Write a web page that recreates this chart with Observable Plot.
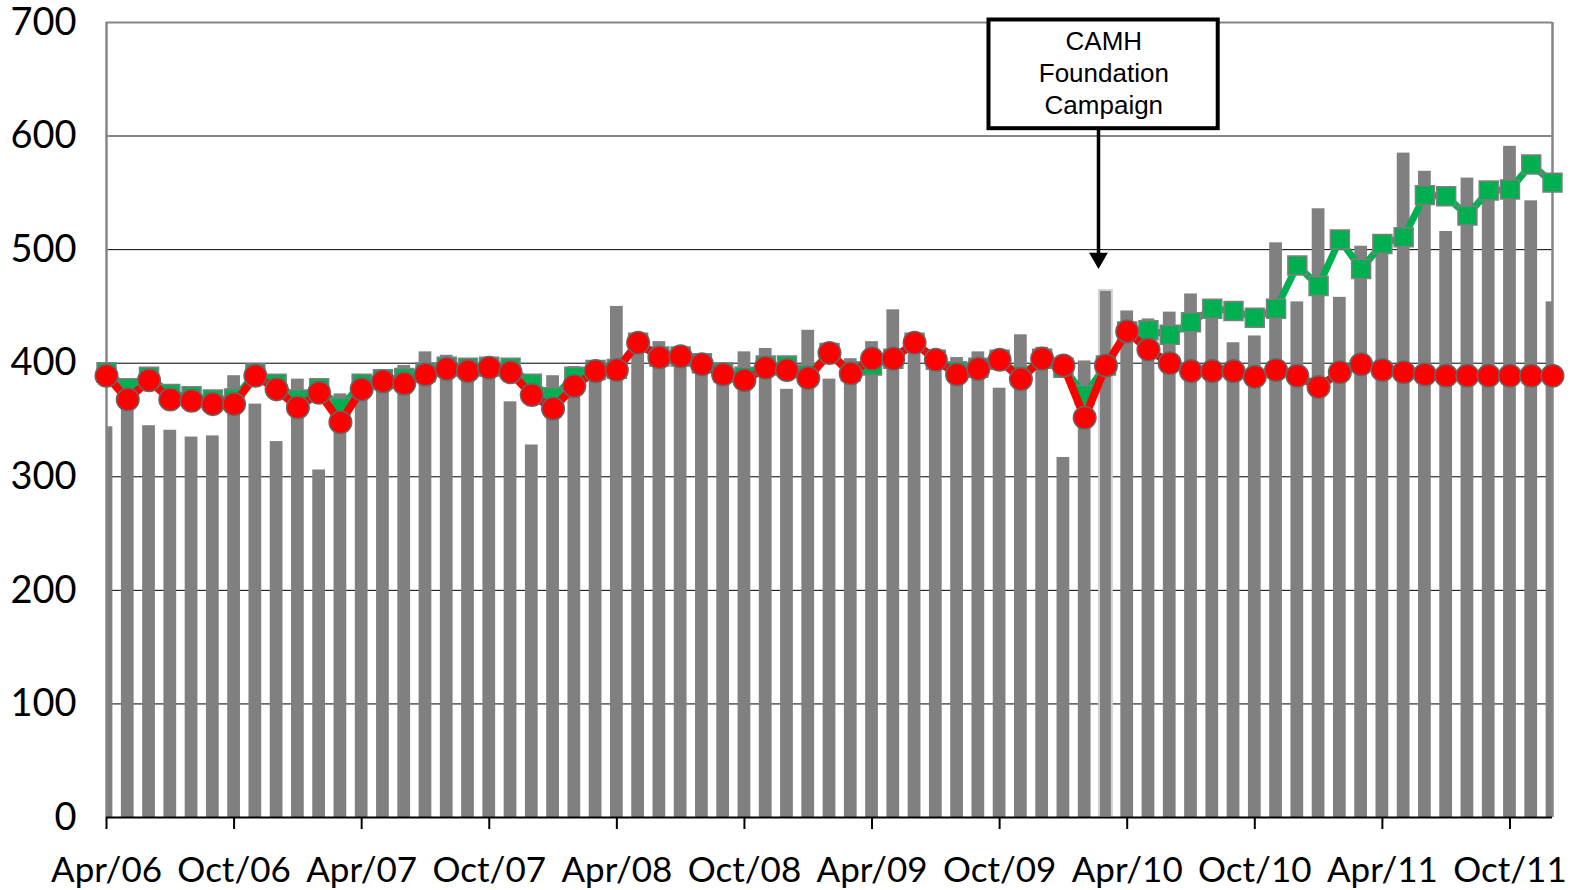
<!DOCTYPE html>
<html>
<head>
<meta charset="utf-8">
<script src="https://cdn.jsdelivr.net/npm/d3@7"></script>
<script src="https://cdn.jsdelivr.net/npm/@observablehq/plot@0.6"></script>
<style>
  html, body { margin: 0; padding: 0; background: #fff; }
  #chart svg { display: block; }
</style>
</head>
<body>
<div id="chart"></div>
<script>
// Month index 0 = Apr/06 ... 68 = Dec/11
const barValues = [344,372,345,341,335,336,389,364,331,386,306,373,382,392,398,410,407,402,
  404,366,328,389,397,398,450,420,419,405,399,383,410,413,377,429,386,404,419,447,410,400,
  405,410,378,425,414,317,402,464,446,439,445,461,440,418,424,506,454,536,458,503,500,585,
  569,516,563,555,591,543,454];
const redValues = [389,368,385,368,367,364,364,389,377,361,374,348,377,384,382,390,395,393,
  396,392,372,360,380,393,394,418,405,406,399,390,385,396,394,387,409,391,404,404,418,403,
  390,395,403,386,404,398,352,398,428,412,400,393,393,393,388,394,389,379,392,399,394,392,
  390,389,389,389,389,389,389];
const greenValues = [392,378,388,373,371,368,369,391,382,368,378,361,382,386,387,392,397,396,
  397,396,382,370,388,394,395,418,406,406,400,392,388,398,398,390,409,393,398,404,418,403,
  393,396,403,389,404,396,372,398,428,429,425,436,448,446,440,448,486,468,509,483,505,511,
  548,547,530,552,553,575,559];
const tickLabels = ["Apr/06","Oct/06","Apr/07","Oct/07","Apr/08","Oct/08","Apr/09","Oct/09",
  "Apr/10","Oct/10","Apr/11","Oct/11"];
const yTicks = [0,100,200,300,400,500,600,700];
const highlightMonth = [47];
const noteLines = ["CAMH","Foundation","Campaign"];

const data = barValues.map((v, i) => ({i, bar: v, red: redValues[i], green: greenValues[i]}));
const tickPos = tickLabels.map((_, k) => k * 6);
const lastIndex = barValues.length - 1;

const noteBox = [{x1: 41.5, x2: 52.28, y1: 606.5, y2: 702.2}];
const noteCenterX = 46.9;
const noteText = noteLines.map((t, k) => ({t, x: noteCenterX, y: [683, 655, 627][k]}));
const arrowX = 46.65;
const arrow = [{x: arrowX, y1: 606.5, y2: 490}];
const arrowHead = [{x: arrowX, y: 489}];

const chart = Plot.plot({
  width: 1576,
  height: 890,
  marginLeft: 106,
  marginRight: 24,
  marginTop: 22,
  marginBottom: 73,
  style: {fontFamily: "Lato, 'Noto Sans', sans-serif", color: "#000", background: "#fff"},
  x: {type: "linear", domain: [0, lastIndex]},
  y: {domain: [0, 700]},
  marks: [
    Plot.ruleY([100, 200, 300, 400, 500], {stroke: "#000", strokeWidth: 1}),
    Plot.ruleY([600, 700], {stroke: "#868686", strokeWidth: 2}),
    Plot.rectY(data, {x1: d => d.i - 0.3, x2: d => d.i + 0.3, y: "bar", fill: "#808080", clip: true}),
    Plot.rectY(data.filter(d => highlightMonth.includes(d.i)), {x1: d => d.i - 0.3, x2: d => d.i + 0.3, y: "bar", fill: "#808080", stroke: "#cfcfcf", strokeWidth: 2}),
    Plot.ruleX([0, lastIndex], {stroke: "#868686", strokeWidth: 2.5}),
    Plot.ruleY([0], {stroke: "#000", strokeWidth: 2}),
    Plot.axisX(tickPos, {tickFormat: p => tickLabels[p / 6], tickSize: 12, tickPadding: 28, fontSize: 35, stroke: "#000", strokeWidth: 2, strokeOpacity: 1, fill: "#000"}),
    Plot.axisY(yTicks, {tickSize: 0, tickPadding: 30, fontSize: 38, fill: "#000"}),
    Plot.line(data, {x: "i", y: "green", stroke: "#00b050", strokeWidth: 7}),
    Plot.dot(data, {x: "i", y: "green", symbol: "square", r: 10.7, fill: "#00b050", stroke: "#7f7f7f", strokeWidth: 1.5}),
    Plot.line(data, {x: "i", y: "red", stroke: "#ff0000", strokeWidth: 8}),
    Plot.dot(data, {x: "i", y: "red", r: 11.3, fill: "#ff0000", stroke: "#666", strokeWidth: 1.5}),
    Plot.rect(noteBox, {x1: "x1", x2: "x2", y1: "y1", y2: "y2", fill: "#fff", stroke: "#000", strokeWidth: 4}),
    Plot.text(noteText, {x: "x", y: "y", text: "t", fontSize: 26, fontFamily: "'Liberation Sans', Arial, sans-serif", fill: "#000"}),
    Plot.ruleX(arrow, {x: "x", y1: "y1", y2: "y2", stroke: "#000", strokeWidth: 3.5}),
    Plot.dot(arrowHead, {x: "x", y: "y", symbol: "triangle", r: 7, rotate: 180, fill: "#000", dy: -4})
  ]
});
document.getElementById("chart").appendChild(chart);
</script>
</body>
</html>
